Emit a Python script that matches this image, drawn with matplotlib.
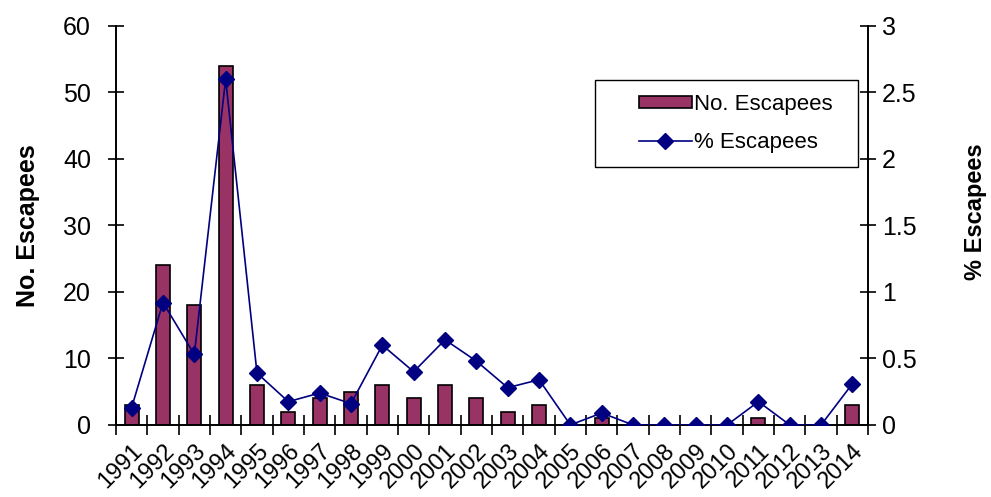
import matplotlib.pyplot as plt
import numpy as np
from matplotlib.patches import Rectangle

plt.rcParams.update({
    "font.family": ["Liberation Sans", "DejaVu Sans"],
    "font.size": 16,
})

years = [str(y) for y in range(1991, 2015)]
no_escapees = [3, 24, 18, 54, 6, 2, 4, 5, 6, 4, 6, 4, 2, 3, 0, 1, 0, 0, 0, 0, 1, 0, 0, 3]
pct_escapees = [0.13, 0.92, 0.53, 2.6, 0.39, 0.175, 0.24, 0.16, 0.60, 0.40, 0.64, 0.48,
                0.28, 0.34, 0.0, 0.09, 0.0, 0.0, 0.0, 0.0, 0.175, 0.0, 0.0, 0.31]

x = np.arange(len(years))

fig = plt.figure(figsize=(9.91, 4.97), dpi=100)
ax = fig.add_axes([0.117, 0.145, 0.759, 0.803])
ax2 = ax.twinx()

bars = ax.bar(x, no_escapees, width=0.45, color="#993366", edgecolor="black",
              linewidth=1.2, label="No. Escapees", zorder=2)
line, = ax2.plot(x, pct_escapees, color="#000080", linewidth=1.2, marker="D",
                 markersize=8.5, label="% Escapees", zorder=3)

ax.set_xlim(-0.5, len(years) - 0.5)
ax.set_ylim(0, 60)
ax.set_yticks(range(0, 61, 10))
ax2.set_ylim(0, 3)
ax2.set_yticks([0, 0.5, 1, 1.5, 2, 2.5, 3])
ax2.set_yticklabels(["0", "0.5", "1", "1.5", "2", "2.5", "3"])

# category ticks sit between the bars, labels at the centres
ax.set_xticks(np.arange(len(years) + 1) - 0.5)
ax.set_xticklabels([])
ax.set_xticks(x, minor=True)
ax.set_xticklabels(years, minor=True, rotation=45, ha="right", rotation_mode="anchor",
                   fontsize=17)
ax.tick_params(axis="x", which="minor", length=0, pad=11)
ax.tick_params(axis="x", which="major", direction="inout", length=14, width=1.2)
ax.tick_params(axis="y", direction="inout", length=12, width=1.2, labelsize=18, pad=12)
ax2.tick_params(axis="y", direction="inout", length=12, width=1.2, labelsize=18, pad=4)

for a in (ax, ax2):
    a.spines["top"].set_visible(False)
    for s in ("left", "right", "bottom"):
        a.spines[s].set_linewidth(1.2)

ax.set_ylabel("No. Escapees", fontweight="bold", fontsize=18)
ax.yaxis.set_label_coords(-0.101, 0.5)
ax2.set_ylabel("% Escapees", fontweight="bold", fontsize=17, rotation=90)
ax2.yaxis.set_label_coords(1.127, 0.535)

# legend box drawn separately so the entries can sit in a wider frame
ax2.add_patch(Rectangle((0.637, 0.647), 0.350, 0.218, transform=ax2.transAxes,
                        facecolor="white", edgecolor="black", linewidth=1.0,
                        zorder=4, clip_on=False))
leg = ax2.legend([bars, line], ["No. Escapees", "% Escapees"], loc="center",
                 bbox_to_anchor=(0.824, 0.756), frameon=False, fontsize=16,
                 labelspacing=0.75, handlelength=2.4, handleheight=0.45,
                 handletextpad=0.1)
leg.set_zorder(5)

fig.savefig("out.png", dpi=100)
